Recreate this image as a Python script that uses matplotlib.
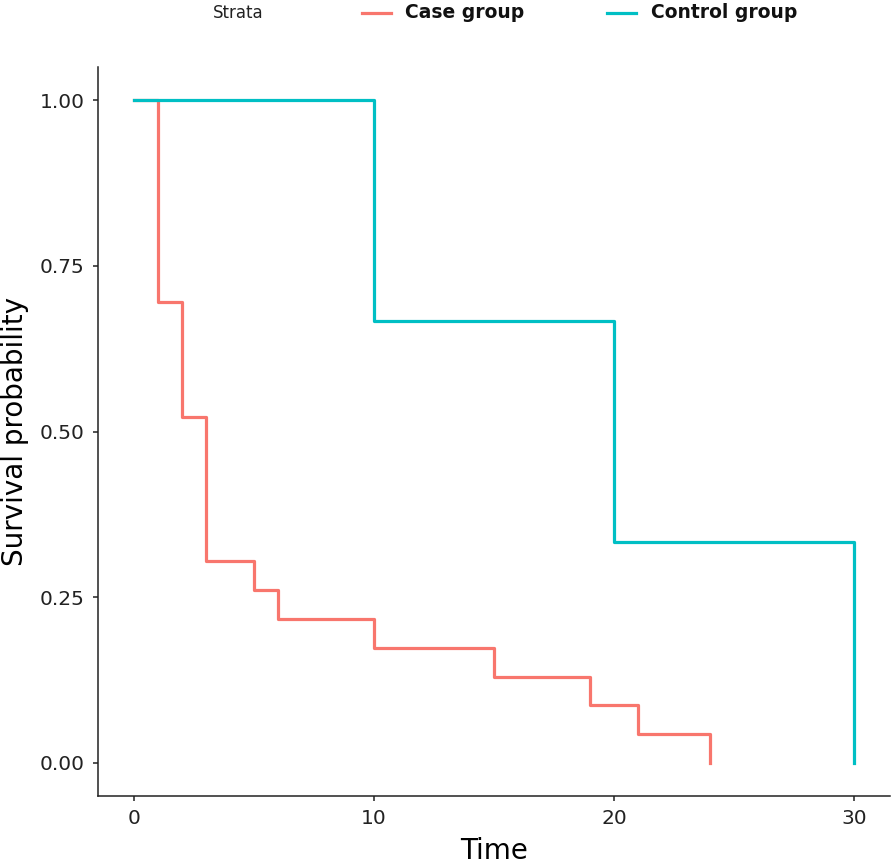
import matplotlib
matplotlib.use("Agg")
import matplotlib.pyplot as plt
from matplotlib.lines import Line2D

# Kaplan-Meier estimates
case_time = [0, 1, 2, 3, 5, 6, 10, 15, 19, 21, 24]
case_surv = [1.0, 0.696, 0.522, 0.304, 0.261, 0.217, 0.174, 0.130, 0.087, 0.043, 0.0]
control_time = [0, 10, 20, 30]
control_surv = [1.0, 0.667, 0.333, 0.0]

x_ticks = [0, 10, 20, 30]
y_ticks = [0.0, 0.25, 0.5, 0.75, 1.0]
y_ticklabels = ["0.00", "0.25", "0.50", "0.75", "1.00"]

CASE_COLOR = "#F8766D"
CONTROL_COLOR = "#00BFC4"

plt.rcParams["font.family"] = ["DejaVu Sans"]

fig = plt.figure(figsize=(8.94, 8.68), dpi=100)
ax = fig.add_axes([98 / 894, 72 / 868, 792 / 894, 729 / 868])

ax.step(case_time, case_surv, where="post", color=CASE_COLOR, lw=2.3)
ax.step(control_time, control_surv, where="post", color=CONTROL_COLOR, lw=2.3)

ax.set_xlim(-1.5, 31.5)
ax.set_ylim(-0.05, 1.05)
ax.set_xticks(x_ticks)
ax.set_yticks(y_ticks)
ax.set_yticklabels(y_ticklabels)

for side in ["top", "right"]:
    ax.spines[side].set_visible(False)
for side in ["left", "bottom"]:
    ax.spines[side].set_linewidth(1.1)
    ax.spines[side].set_color("#222222")

ax.tick_params(axis="both", length=3.5, width=1.1, color="#222222",
               labelsize=14.5, labelcolor="#222222", pad=6)

ax.set_xlabel("Time", fontsize=20, labelpad=6)
ax.set_ylabel("Survival probability", fontsize=20, labelpad=8)

# legend on top, laid out like survminer's
ly = 1 - 13 / 868
fig.text(213 / 894, ly, "Strata", fontsize=12, ha="left", va="center", color="#222222")
fig.add_artist(Line2D([362 / 894, 391 / 894], [ly, ly], color=CASE_COLOR, lw=2.3))
fig.text(405 / 894, ly, "Case group", fontsize=13.5, fontweight="bold",
         ha="left", va="center", color="#111111")
fig.add_artist(Line2D([607 / 894, 636 / 894], [ly, ly], color=CONTROL_COLOR, lw=2.3))
fig.text(651 / 894, ly, "Control group", fontsize=13.5, fontweight="bold",
         ha="left", va="center", color="#111111")

fig.savefig("out.png", dpi=100)
